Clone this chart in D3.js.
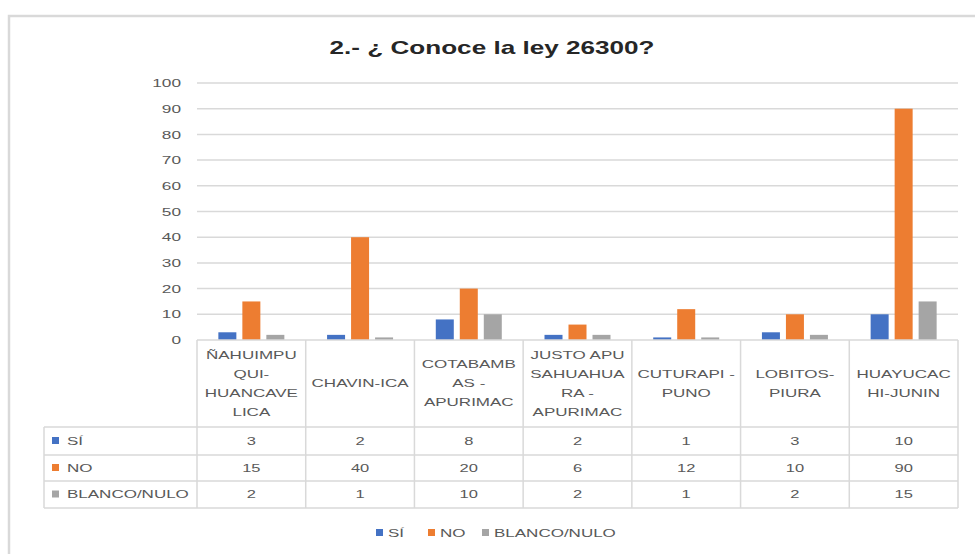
<!DOCTYPE html>
<html>
<head>
<meta charset="utf-8">
<script src="https://cdn.jsdelivr.net/npm/d3@7"></script>
<style>
    body { margin: 0; background: #fff; }
    svg text { font-family: "Liberation Sans", Arial, sans-serif; }
</style>
</head>
<body>
<svg id="chart"></svg>
<script>
const width = 975, height = 554

const categories = ["ÑAHUIMPUQUI-HUANCAVELICA", "CHAVIN-ICA", "COTABAMBAS - APURIMAC",
    "JUSTO APUSAHUAHUARA - APURIMAC", "CUTURAPI - PUNO", "LOBITOS-PIURA", "HUAYUCACHI-JUNIN"]
const categoryLines = [
    ["ÑAHUIMPU", "QUI-", "HUANCAVE", "LICA"],
    ["CHAVIN-ICA"],
    ["COTABAMB", "AS -", "APURIMAC"],
    ["JUSTO APU", "SAHUAHUA", "RA -", "APURIMAC"],
    ["CUTURAPI -", "PUNO"],
    ["LOBITOS-", "PIURA"],
    ["HUAYUCAC", "HI-JUNIN"],
]
const seriesNames = ["SÍ", "NO", "BLANCO/NULO"]
const si = [3, 2, 8, 2, 1, 3, 10]
const no = [15, 40, 20, 6, 12, 10, 90]
const blanco = [2, 1, 10, 2, 1, 2, 15]
const yTicks = [0, 10, 20, 30, 40, 50, 60, 70, 80, 90, 100]
const title = "2.- ¿ Conoce la ley 26300?"

const seriesValues = [si, no, blanco]
const colors = ["#4472C4", "#ED7D31", "#A5A5A5"]

const margin = {top: 83, left: 197, right: 17, base: 340}
const tableLeft = 44
const headerBottom = 427
const rowEdges = [427, 455, 481, 508]
const gridColor = "#d9d9d9"
const textColor = "#595959"
// the source picture is stretched sideways, so text is widened too
const stretchX = 1.5
const stretchSmall = 1.62

const svg = d3.select("svg#chart")
    .attr("width", width)
    .attr("height", height)
    .attr("viewBox", [0, 0, width, height])

function stretch(sel, cx, sx = stretchX) {
    sel.attr("transform", function (d, i) {
        const x = typeof cx === "function" ? cx.call(this, d, i) : cx
        return `translate(${x},0) scale(${sx},1) translate(${-x},0)`
    })
}

const colorScale = d3.scaleOrdinal(seriesNames, colors)

const xScale = d3.scaleBand()
    .domain(categories)
    .range([margin.left, width - margin.right])

const xInner = d3.scaleBand()
    .domain(seriesNames)
    .range([0, xScale.bandwidth()])
    .paddingInner(0.25)
    .paddingOuter(0.89)

const yScale = d3.scaleLinear()
    .domain([0, 100])
    .range([margin.base, margin.top])

// outer frame
svg.append("rect")
    .attr("x", 9).attr("y", 16)
    .attr("width", width + 20).attr("height", height + 20)
    .attr("fill", "none")
    .attr("stroke", "#d9d9d9")
    .attr("stroke-width", 2.5)

// title
svg.append("text")
    .attr("x", 492).attr("y", 54)
    .attr("text-anchor", "middle")
    .attr("font-size", 18)
    .attr("font-weight", "bold")
    .attr("fill", "#262626")
    .text(title)
    .call(stretch, 492, 1.45)

// H grid lines
svg.append("g").classed("h-grid", true)
    .selectAll("line")
    .data(yTicks.filter(d => d > 0))
    .enter()
    .append("line")
    .attr("x1", margin.left)
    .attr("x2", width - margin.right)
    .attr("y1", d => yScale(d))
    .attr("y2", d => yScale(d))
    .attr("stroke", gridColor)
    .attr("stroke-width", 1.5)

// Y axis
const yAxis = svg.append("g").classed("y-axis", true)
    .attr("transform", `translate(${margin.left - 16}, 0)`)
    .call(d3.axisLeft(yScale).tickValues(yTicks).tickSize(0).tickPadding(0))
yAxis.select(".domain").remove()
yAxis.selectAll("text")
    .attr("font-size", 11.5)
    .attr("fill", textColor)
    .style("font-family", "Liberation Sans, Arial, sans-serif")
    .call(stretch, 0)

// Bars
const barsData = []
categories.forEach((c, i) => {
    seriesNames.forEach((s, j) => {
        barsData.push({category: c, series: s, value: seriesValues[j][i]})
    })
})

svg.append("g").classed("bars", true)
    .selectAll("rect")
    .data(barsData)
    .enter()
    .append("rect")
    .attr("x", d => xScale(d.category) + xInner(d.series))
    .attr("y", d => yScale(d.value))
    .attr("width", xInner.bandwidth())
    .attr("height", d => yScale(0) - yScale(d.value))
    .attr("fill", d => colorScale(d.series))

// Data table
const table = svg.append("g").classed("data-table", true)
    .attr("stroke", gridColor)
    .attr("stroke-width", 1.5)

const right = width - margin.right
table.append("line")
    .attr("x1", margin.left).attr("x2", right)
    .attr("y1", margin.base).attr("y2", margin.base)
rowEdges.forEach(y => {
    table.append("line")
        .attr("x1", tableLeft).attr("x2", right)
        .attr("y1", y).attr("y2", y)
})
categories.forEach(c => {
    table.append("line")
        .attr("x1", xScale(c)).attr("x2", xScale(c))
        .attr("y1", margin.base).attr("y2", rowEdges[rowEdges.length - 1])
})
table.append("line")
    .attr("x1", right).attr("x2", right)
    .attr("y1", margin.base).attr("y2", rowEdges[rowEdges.length - 1])
table.append("line")
    .attr("x1", tableLeft).attr("x2", tableLeft)
    .attr("y1", rowEdges[0]).attr("y2", rowEdges[rowEdges.length - 1])

// category headers
const headerMid = (margin.base + headerBottom) / 2
const lineH = 19
const catCenter = d => xScale(d) + xScale.bandwidth() / 2
svg.append("g").classed("cat-labels", true)
    .selectAll("text")
    .data(categories)
    .enter()
    .append("text")
    .attr("x", catCenter)
    .attr("text-anchor", "middle")
    .attr("font-size", 10.5)
    .attr("fill", textColor)
    .each(function (d, i) {
        const lines = categoryLines[i]
        const y0 = headerMid - (lines.length - 1) * lineH / 2
        d3.select(this).selectAll("tspan")
            .data(lines)
            .enter()
            .append("tspan")
            .attr("x", catCenter(d))
            .attr("y", (l, k) => y0 + k * lineH)
            .attr("dy", "0.35em")
            .text(l => l)
    })
    .call(stretch, catCenter, stretchSmall)

// row labels with keys
seriesNames.forEach((s, j) => {
    const yMid = (rowEdges[j] + rowEdges[j + 1]) / 2
    svg.append("rect")
        .attr("x", 52).attr("y", yMid - 4)
        .attr("width", 7).attr("height", 7)
        .attr("fill", colorScale(s))
    svg.append("text")
        .attr("x", 67).attr("y", yMid)
        .attr("dy", "0.35em")
        .attr("font-size", 10.5)
        .attr("fill", textColor)
        .text(s)
        .call(stretch, 67, stretchSmall)
    svg.append("g")
        .selectAll("text")
        .data(seriesValues[j])
        .enter()
        .append("text")
        .attr("x", (v, i) => catCenter(categories[i]))
        .attr("y", yMid)
        .attr("dy", "0.35em")
        .attr("text-anchor", "middle")
        .attr("font-size", 11)
        .attr("fill", textColor)
        .text(v => v)
        .call(stretch, (v, i) => catCenter(categories[i]))
})

// legend
const legendX = [376, 428, 482]
const legend = svg.append("g").classed("legend", true)
seriesNames.forEach((s, j) => {
    legend.append("rect")
        .attr("x", legendX[j]).attr("y", 529)
        .attr("width", 7).attr("height", 7)
        .attr("fill", colorScale(s))
    legend.append("text")
        .attr("x", legendX[j] + 12).attr("y", 533)
        .attr("dy", "0.35em")
        .attr("font-size", 10.5)
        .attr("fill", textColor)
        .text(s)
        .call(stretch, legendX[j] + 12, stretchSmall)
})
</script>
</body>
</html>
